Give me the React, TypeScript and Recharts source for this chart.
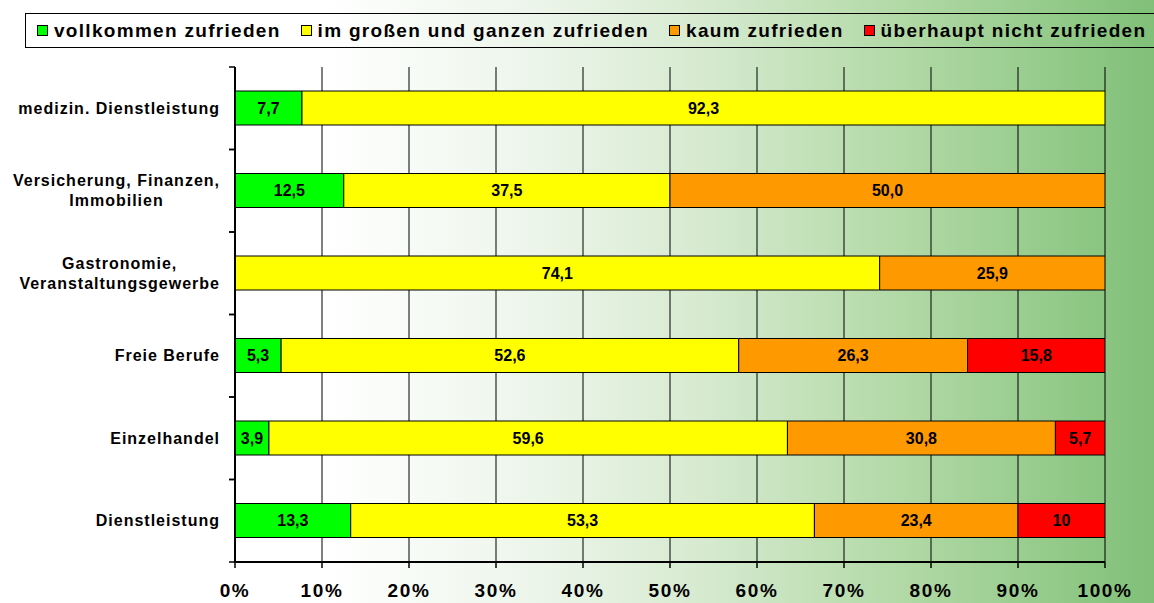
import React from 'react';
import { BarChart, Bar, XAxis, YAxis, CartesianGrid, LabelList, Legend } from 'recharts';

const categories = [
  'medizin. Dienstleistung',
  'Versicherung, Finanzen,|Immobilien',
  'Gastronomie,|Veranstaltungsgewerbe',
  'Freie Berufe',
  'Einzelhandel',
  'Dienstleistung',
];
const vollkommen = [7.7, 12.5, 0, 5.3, 3.9, 13.3];
const grossen = [92.3, 37.5, 74.1, 52.6, 59.6, 53.3];
const kaum = [0, 50.0, 25.9, 26.3, 30.8, 23.4];
const ueberhaupt = [0, 0, 0, 15.8, 5.7, 10];

const labelsVollkommen = ['7,7', '12,5', '', '5,3', '3,9', '13,3'];
const labelsGrossen = ['92,3', '37,5', '74,1', '52,6', '59,6', '53,3'];
const labelsKaum = ['', '50,0', '25,9', '26,3', '30,8', '23,4'];
const labelsUeberhaupt = ['', '', '', '15,8', '5,7', '10'];

const xTicks = [0, 10, 20, 30, 40, 50, 60, 70, 80, 90, 100];
const seriesNames = ['vollkommen zufrieden', 'im großen und ganzen zufrieden', 'kaum zufrieden', 'überhaupt nicht zufrieden'];
const seriesColors = ['#00FF00', '#FFFF00', '#FF9900', '#FF0000'];

const FONT = '"Liberation Sans", Arial, sans-serif';

const data = categories.map((name, i) => ({
  name,
  v0: vollkommen[i],
  v1: grossen[i],
  v2: kaum[i],
  v3: ueberhaupt[i],
  l0: labelsVollkommen[i],
  l1: labelsGrossen[i],
  l2: labelsKaum[i],
  l3: labelsUeberhaupt[i],
}));

let ctx: CanvasRenderingContext2D | null = null;
function measure(text: string, font: string, ls: number) {
  if (!ctx) ctx = document.createElement('canvas').getContext('2d');
  if (!ctx) return text.length * 9;
  ctx.font = font;
  return ctx.measureText(text).width + ls * text.length;
}

const Y_FS = 16;
const Y_LS = 1;

const YTick = (props: any) => {
  const { x, y, payload } = props;
  const lines = String(payload.value).split('|');
  const half = payload.offset ?? 41.25;
  const axisX = x + 15;
  const widths = lines.map((l) => measure(l, `bold ${Y_FS}px ${FONT}`, Y_LS));
  const maxW = Math.max(...widths);
  const cx = x - maxW / 2;
  const lh = 20;
  return (
    <g>
      <line x1={axisX - 6} x2={axisX} y1={y - half} y2={y - half} stroke="#000" strokeWidth={1.5} />
      <line x1={axisX - 6} x2={axisX} y1={y + half} y2={y + half} stroke="#000" strokeWidth={1.5} />
      {lines.map((l, i) => (
        <text
          key={i}
          x={cx}
          y={y + (i - (lines.length - 1) / 2) * lh}
          textAnchor="middle"
          dominantBaseline="central"
          fontFamily={FONT}
          fontSize={Y_FS}
          fontWeight="bold"
          letterSpacing={Y_LS}
          fill="#000"
        >
          {l}
        </text>
      ))}
    </g>
  );
};

const LegendContent = () => (
  <div
    style={{
      boxSizing: 'border-box',
      height: 35,
      width: 1200,
      border: '1px solid #000',
      display: 'flex',
      alignItems: 'center',
      paddingLeft: 11,
      fontFamily: FONT,
    }}
  >
    {seriesNames.map((n, i) => (
      <div key={n} style={{ display: 'flex', alignItems: 'center', marginRight: 20 }}>
        <span
          style={{
            display: 'inline-block',
            boxSizing: 'border-box',
            width: 11,
            height: 11,
            border: '1px solid #000',
            background: seriesColors[i],
            marginRight: 6,
          }}
        />
        <span style={{ fontSize: 19, fontWeight: 'bold', letterSpacing: 1.3, color: '#000', whiteSpace: 'nowrap' }}>{n}</span>
      </div>
    ))}
  </div>
);

const labelKeys = ['l0', 'l1', 'l2', 'l3'];
const valueKeys = ['v0', 'v1', 'v2', 'v3'];

export default function App() {
  return (
    <div
      style={{
        position: 'absolute',
        left: 0,
        top: 0,
        width: 1154,
        height: 603,
        overflow: 'hidden',
        background:
          'linear-gradient(to right, #ffffff 0%, #ffffff 28%, #eef6ec 45%, #d8ebd2 60%, #b2d9a6 78%, #80c078 100%)',
      }}
    >
      <BarChart
        width={1154}
        height={603}
        data={data}
        layout="vertical"
        margin={{ top: 67, right: 49, left: 0, bottom: 0 }}
        barSize={34}
      >
        <CartesianGrid horizontal={false} vertical={true} stroke="#000" strokeWidth={1} />
        <XAxis
          xAxisId="top"
          orientation="top"
          type="number"
          domain={[0, 100]}
          allowDataOverflow
          height={0}
          tick={false}
          tickLine={false}
          axisLine={{ stroke: '#000', strokeWidth: 1.5 }}
        />
        <XAxis
          type="number"
          domain={[0, 100]}
          allowDataOverflow
          ticks={xTicks}
          interval={0}
          tickFormatter={(v: number) => `${v}%`}
          height={41}
          tickSize={6}
          tickMargin={16}
          axisLine={{ stroke: '#000', strokeWidth: 2 }}
          tickLine={{ stroke: '#000', strokeWidth: 1.5 }}
          tick={{ fill: '#000', fontSize: 19, fontWeight: 'bold', fontFamily: FONT, letterSpacing: 1.6 }}
        />
        <YAxis
          type="category"
          dataKey="name"
          width={235}
          interval={0}
          tickLine={false}
          tickSize={6}
          tickMargin={9}
          axisLine={{ stroke: '#000', strokeWidth: 2 }}
          tick={<YTick />}
        />
        <Legend
          layout="horizontal"
          verticalAlign="middle"
          align="center"
          wrapperStyle={{ position: 'absolute', top: 13, left: 25, width: 1200, height: 35 }}
          content={<LegendContent />}
        />
        {valueKeys.map((k, i) => (
          <Bar
            key={k}
            dataKey={k}
            stackId="a"
            name={seriesNames[i]}
            fill={seriesColors[i]}
            stroke="#000"
            strokeWidth={1}
            isAnimationActive={false}
          >
            <LabelList
              dataKey={labelKeys[i]}
              position="center"
              fill="#000"
              fontSize={16}
              fontWeight="bold"
              fontFamily={FONT}
            />
          </Bar>
        ))}
      </BarChart>
    </div>
  );
}
